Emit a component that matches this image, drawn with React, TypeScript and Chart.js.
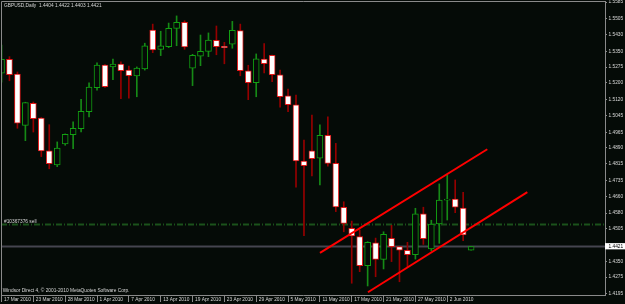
import { useEffect, useRef } from 'react';
import { Chart, registerables } from 'chart.js';

Chart.register(...registerables);

// ---------- text ----------
const symbolTitle = 'GBPUSD,Daily  1.4404 1.4422 1.4403 1.4421';
const copyrightText = 'Windsor Direct 4, \u00a9 2001-2010 MetaQuotes Software Corp.';
const orderLabel = '#10367376 sell';

// ---------- x axis (bar index) ----------
const dateTickIndex = [0, 4, 8, 12, 16, 20, 24, 28, 32, 36, 40, 44, 48, 52, 56];
const dateLabels = [
  '17 Mar 2010', '23 Mar 2010', '28 Mar 2010', '1 Apr 2010', '7 Apr 2010',
  '13 Apr 2010', '19 Apr 2010', '23 Apr 2010', '29 Apr 2010', '5 May 2010',
  '11 May 2010', '17 May 2010', '21 May 2010', '27 May 2010', '2 Jun 2010',
];

// ---------- OHLC ----------
const opens = [
  1.5246, 1.5312, 1.5242, 1.4998, 1.5103, 1.5033, 1.4876, 1.4810, 1.4910, 1.4953,
  1.4982, 1.5063, 1.5177, 1.5285, 1.5276, 1.5290, 1.5261, 1.5233, 1.5266, 1.5452,
  1.5360, 1.5372, 1.5460, 1.5489, 1.5270, 1.5327, 1.5350, 1.5403, 1.5374, 1.5384,
  1.5449, 1.5257, 1.5201, 1.5314, 1.5331, 1.5238, 1.5138, 1.5096, 1.4828, 1.4877,
  1.4841, 1.4950, 1.4817, 1.4608, 1.4508, 1.4468, 1.4330, 1.4439, 1.4360, 1.4460,
  1.4420, 1.4403, 1.4382, 1.4576, 1.4409, 1.4528, 1.4641, 1.4647, 1.4604, 1.4404,
];
const highs = [
  1.5380, 1.5325, 1.5252, 1.5108, 1.5109, 1.5035, 1.5001, 1.4919, 1.4957, 1.5015,
  1.5122, 1.5200, 1.5295, 1.5287, 1.5314, 1.5300, 1.5280, 1.5276, 1.5389, 1.5480,
  1.5446, 1.5485, 1.5519, 1.5496, 1.5336, 1.5428, 1.5438, 1.5471, 1.5393, 1.5493,
  1.5480, 1.5284, 1.5338, 1.5387, 1.5333, 1.5261, 1.5170, 1.5142, 1.4928, 1.5047,
  1.5000, 1.5039, 1.4912, 1.4634, 1.4542, 1.4500, 1.4444, 1.4461, 1.4491, 1.4522,
  1.4422, 1.4441, 1.4603, 1.4608, 1.4546, 1.4719, 1.4761, 1.4738, 1.4679, 1.4422,
];
const lows = [
  1.5204, 1.5210, 1.4984, 1.4925, 1.4966, 1.4849, 1.4791, 1.4801, 1.4903, 1.4887,
  1.4966, 1.5038, 1.5165, 1.5179, 1.5215, 1.5125, 1.5127, 1.5134, 1.5261, 1.5344,
  1.5330, 1.5368, 1.5377, 1.5360, 1.5187, 1.5282, 1.5325, 1.5334, 1.5291, 1.5365,
  1.5234, 1.5120, 1.5134, 1.5247, 1.5206, 1.5084, 1.5063, 1.4704, 1.4472, 1.4757,
  1.4714, 1.4804, 1.4587, 1.4491, 1.4246, 1.4301, 1.4233, 1.4277, 1.4314, 1.4349,
  1.4253, 1.4325, 1.4361, 1.4431, 1.4400, 1.4436, 1.4547, 1.4582, 1.4449, 1.4403,
];
const closes = [
  1.5312, 1.5239, 1.5008, 1.5106, 1.5030, 1.4876, 1.4815, 1.4890, 1.4955, 1.4984,
  1.5065, 1.5180, 1.5285, 1.5182, 1.5290, 1.5258, 1.5234, 1.5271, 1.5376, 1.5357,
  1.5376, 1.5460, 1.5489, 1.5371, 1.5331, 1.5350, 1.5404, 1.5372, 1.5368, 1.5450,
  1.5258, 1.5201, 1.5315, 1.5291, 1.5239, 1.5134, 1.5096, 1.4828, 1.4806, 1.4839,
  1.4950, 1.4817, 1.4610, 1.4531, 1.4471, 1.4330, 1.4441, 1.4360, 1.4479, 1.4420,
  1.4404, 1.4382, 1.4576, 1.4458, 1.4528, 1.4642, 1.4647, 1.4608, 1.4476, 1.4421,
];

// ---------- price axis ----------
const priceTicks = [
  1.5585, 1.5505, 1.5430, 1.5350, 1.5275, 1.5200, 1.5120, 1.5045, 1.4965, 1.4890,
  1.4815, 1.4735, 1.4660, 1.4580, 1.4505, 1.4350, 1.4275, 1.4195,
];
const currentPrice = 1.4421;
const orderPrice = 1.4526;

// ---------- channel trend lines (bar index, price) ----------
const upperChannelX = [40.01, 61.03];
const upperChannelY = [1.4391, 1.4884];
const lowerChannelX = [46.04, 66.06];
const lowerChannelY = [1.4203, 1.4680];

// ---------- view range ----------
const X_MIN = -0.063;
const X_MAX = 75.82;
const Y_MIN = 1.419;
const Y_MAX = 1.559;

// ---------- styles ----------
const BG = '#050b07';
const AXIS = '#8a8a8a';
const TEXT = '#d8d8d8';
const BULL = '#12a012';
const BULL_WICK = '#168a16';
const BEAR = '#e01818';
const BEAR_WICK = '#960000';
const FONT_FAMILY = "'Liberation Sans', Arial, sans-serif";
const FONT_SIZE = 4.8;

const decorPlugin = {
  id: 'decor',
  beforeDraw(chart: any) {
    const { ctx, width, height } = chart;
    ctx.save();
    ctx.fillStyle = BG;
    ctx.fillRect(0, 0, width, height);
    ctx.restore();
  },
  afterDraw(chart: any) {
    const { ctx, chartArea: a, scales } = chart;
    ctx.save();
    ctx.strokeStyle = AXIS;
    ctx.lineWidth = 1;
    ctx.beginPath();
    ctx.moveTo(a.left + 0.5, a.bottom);
    ctx.lineTo(a.left + 0.5, a.top + 0.5);
    ctx.lineTo(a.right, a.top + 0.5);
    ctx.stroke();
    ctx.font = `${FONT_SIZE}px ${FONT_FAMILY}`;
    ctx.fillStyle = TEXT;
    ctx.textAlign = 'left';
    ctx.textBaseline = 'alphabetic';
    ctx.fillText(symbolTitle, a.left + 3, a.top + 5.5);
    ctx.fillText(copyrightText, a.left + 1.7, a.bottom - 2.7);
    const yOrder = scales.y.getPixelForValue(orderPrice);
    ctx.fillText(orderLabel, a.left + 3, yOrder - 1);
    ctx.restore();
  },
};

export default function App() {
  const canvasRef = useRef<HTMLCanvasElement | null>(null);

  useEffect(() => {
    const canvas = canvasRef.current;
    if (!canvas) return;
    const idx = opens.map((_, i) => i);
    const isBull = (i: number) => closes[i] >= opens[i];
    const font = { family: FONT_FAMILY, size: FONT_SIZE };

    const chart = new Chart(canvas, {
      type: 'bar',
      data: {
        datasets: [
          {
            type: 'line',
            label: 'upper',
            data: upperChannelX.map((x, k) => ({ x, y: upperChannelY[k] })),
            borderColor: '#ff0000',
            borderWidth: 2,
            pointRadius: 0,
            tension: 0,
            order: 0,
          } as any,
          {
            type: 'line',
            label: 'lower',
            data: lowerChannelX.map((x, k) => ({ x, y: lowerChannelY[k] })),
            borderColor: '#ff0000',
            borderWidth: 2,
            pointRadius: 0,
            tension: 0,
            order: 0,
          } as any,
          {
            type: 'bar',
            label: 'body',
            data: idx.map((i) => ({ x: i, y: [opens[i], closes[i]] })),
            backgroundColor: idx.map((i) => (isBull(i) ? BG : '#ffffff')),
            borderColor: idx.map((i) => (isBull(i) ? BULL : BEAR)),
            borderWidth: 1,
            borderSkipped: false,
            barThickness: 6,
            grouped: false,
            order: 1,
          } as any,
          {
            type: 'bar',
            label: 'wick',
            data: idx.map((i) => ({ x: i, y: [lows[i], highs[i]] })),
            backgroundColor: idx.map((i) => (isBull(i) ? BULL_WICK : BEAR_WICK)),
            borderWidth: 0,
            barThickness: 1,
            grouped: false,
            order: 2,
          } as any,
          {
            type: 'line',
            label: 'bid',
            data: [{ x: X_MIN, y: currentPrice }, { x: X_MAX, y: currentPrice }],
            borderColor: '#45454f',
            borderWidth: 2,
            pointRadius: 0,
            order: 3,
          } as any,
          {
            type: 'line',
            label: 'order',
            data: [{ x: X_MIN, y: orderPrice }, { x: X_MAX, y: orderPrice }],
            borderColor: '#1b521b',
            borderWidth: 2,
            borderDash: [6, 2, 1, 2],
            pointRadius: 0,
            order: 3,
          } as any,
        ],
      },
      options: {
        animation: false,
        responsive: false,
        devicePixelRatio: 1,
        events: [],
        layout: { padding: { left: 1, top: 1, right: 0, bottom: 0 } },
        plugins: { legend: { display: false }, tooltip: { enabled: false } },
        scales: {
          x: {
            type: 'linear',
            position: 'bottom',
            min: X_MIN,
            max: X_MAX,
            offset: false,
            afterBuildTicks: (s: any) => {
              s.ticks = dateTickIndex.map((v) => ({ value: v }));
            },
            afterFit: (s: any) => {
              s.height = 9;
              s.paddingLeft = 0;
              s.paddingRight = 0;
            },
            grid: { drawOnChartArea: false, drawTicks: true, tickLength: 7, color: AXIS, offset: false },
            border: { color: AXIS, width: 1 },
            ticks: {
              autoSkip: false,
              maxRotation: 0,
              minRotation: 0,
              align: 'start',
              labelOffset: 2.5,
              padding: -5.2,
              color: TEXT,
              font,
              callback: (_v: any, i: number) => dateLabels[i],
            },
          },
          y: {
            type: 'linear',
            position: 'right',
            min: Y_MIN,
            max: Y_MAX,
            afterBuildTicks: (s: any) => {
              s.ticks = [...priceTicks, currentPrice]
                .sort((a, b) => a - b)
                .map((v) => ({ value: v }));
            },
            afterFit: (s: any) => {
              s.width = 20;
              s.paddingTop = 0;
              s.paddingBottom = 0;
            },
            grid: { drawOnChartArea: false, drawTicks: true, tickLength: 2, color: AXIS },
            border: { color: AXIS, width: 1 },
            ticks: {
              padding: 1.5,
              font,
              color: (c: any) => (c.tick && c.tick.value === currentPrice ? '#000000' : TEXT),
              showLabelBackdrop: (c: any) => !!(c.tick && c.tick.value === currentPrice),
              backdropColor: '#ffffff',
              backdropPadding: { left: 4, right: 3, top: 0.5, bottom: 0 },
              callback: (v: any) => Number(v).toFixed(4),
            },
          },
        },
      } as any,
      plugins: [decorPlugin],
    });
    return () => chart.destroy();
  }, []);

  return (
    <div style={{ position: 'fixed', left: 0, top: 0, width: 625, height: 304, background: BG }}>
      <canvas ref={canvasRef} width={625} height={304} style={{ display: 'block', width: 625, height: 304 }} />
    </div>
  );
}
